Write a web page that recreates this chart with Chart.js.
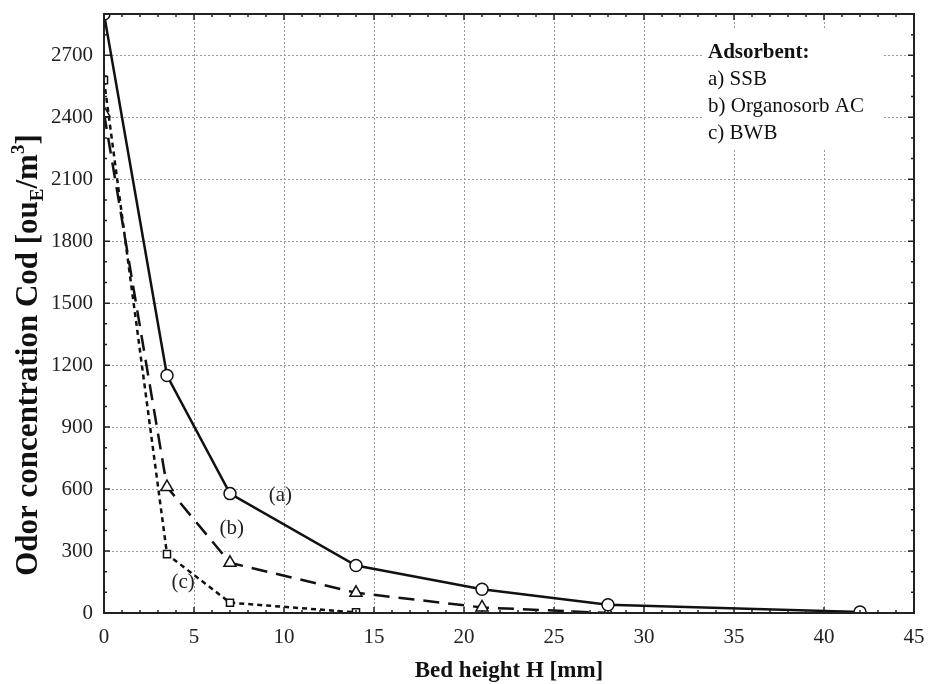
<!DOCTYPE html>
<html>
<head>
<meta charset="utf-8">
<script src="https://cdn.jsdelivr.net/npm/chart.js"></script>
<style>
  body { margin: 0; background: #fff; }
  #wrap { width: 928px; height: 684px; }
</style>
</head>
<body>
<div id="wrap"><canvas id="myChart" width="928" height="684"></canvas></div>
<script>
const ctx = document.getElementById("myChart")

// bed height H [mm]
const heightA = [0, 3.5, 7, 14, 21, 28, 42]
const heightB = [0, 3.5, 7, 14, 21, 28]
const heightC = [0, 3.5, 7, 14]
// odor concentration [ouE/m3]
const odorA = [2900, 1150, 578, 230, 115, 40, 5]
const odorB = [2420, 610, 243, 98, 27, 0]
const odorC = [2580, 285, 50, 3]
const yTicks = [0, 300, 600, 900, 1200, 1500, 1800, 2100, 2400, 2700]
const legendLines = ['a) SSB', 'b) Organosorb AC', 'c) BWB']
const curveLabels = [['(a)', 9.8, 571], ['(b)', 7.1, 411], ['(c)', 4.4, 150]]

const serif = "'Liberation Serif', 'Times New Roman', serif"

const pts = (xs, ys) => xs.map((x, i) => ({ x: x, y: ys[i] }))

// frame, inward ticks, titles and text labels
const decor = {
  id: 'decor',
  afterDraw(chart) {
    const c = chart.ctx
    const a = chart.chartArea
    const xs = chart.scales.x
    const ys = chart.scales.y
    c.save()
    c.strokeStyle = '#222'
    c.lineWidth = 2
    c.strokeRect(a.left, a.top, a.right - a.left, a.bottom - a.top)
    c.lineWidth = 1.5
    c.beginPath()
    for (let v = 0; v <= 45; v++) {
      const p = xs.getPixelForValue(v)
      const len = v % 5 === 0 ? 6 : 3
      c.moveTo(p, a.bottom); c.lineTo(p, a.bottom - len)
      c.moveTo(p, a.top); c.lineTo(p, a.top + len)
    }
    for (let v = 0; v <= 2900; v += 100) {
      const p = ys.getPixelForValue(v)
      const len = v % 300 === 0 ? 6 : 3
      c.moveTo(a.left, p); c.lineTo(a.left + len, p)
      c.moveTo(a.right, p); c.lineTo(a.right - len, p)
    }
    c.stroke()

    // curve labels
    c.fillStyle = '#222'
    c.font = '21px ' + serif
    c.textAlign = 'center'
    c.textBaseline = 'middle'
    curveLabels.forEach(l => {
      c.fillText(l[0], xs.getPixelForValue(l[1]), ys.getPixelForValue(l[2]))
    })

    // legend box
    c.fillStyle = '#fff'
    c.fillRect(704, 30, 178, 120)
    c.fillStyle = '#111'
    c.textAlign = 'left'
    c.font = 'bold 21px ' + serif
    c.fillText('Adsorbent:', 708, 53)
    c.font = '21px ' + serif
    legendLines.forEach((t, i) => c.fillText(t, 708, 79 + i * 27))

    // x title
    c.font = 'bold 23px ' + serif
    c.textAlign = 'center'
    c.fillText('Bed height H [mm]', (a.left + a.right) / 2, 671)

    // y title with sub/superscript
    const parts = [
      ['Odor concentration Cod [ou', 31, 0],
      ['E', 19, 6],
      ['/m', 31, 0],
      ['3', 19, -13],
      [']', 31, 0]
    ]
    let total = 0
    parts.forEach(p => { c.font = 'bold ' + p[1] + 'px ' + serif; total += c.measureText(p[0]).width })
    c.textAlign = 'left'
    c.textBaseline = 'alphabetic'
    c.translate(37, 355)
    c.rotate(-Math.PI / 2)
    let x = -total / 2
    parts.forEach(p => {
      c.font = 'bold ' + p[1] + 'px ' + serif
      c.fillText(p[0], x, p[2])
      x += c.measureText(p[0]).width
    })
    c.restore()
  }
}

const marker = {
  pointRadius: 6,
  pointHoverRadius: 6,
  pointBackgroundColor: '#fff',
  pointBorderColor: '#111',
  pointBorderWidth: 1.5,
  borderColor: '#111',
  borderWidth: 2.5,
  fill: false,
  tension: 0
}

const tickFont = { family: serif, size: 21 }

let myChart = new Chart(ctx, {
  type: 'line',
  data: {
    datasets: [
      Object.assign({ label: 'a) SSB', data: pts(heightA, odorA), pointStyle: 'circle' }, marker),
      Object.assign({ label: 'b) Organosorb AC', data: pts(heightB, odorB), pointStyle: 'triangle', borderDash: [16, 9] }, marker, { pointRadius: 7 }),
      Object.assign({ label: 'c) BWB', data: pts(heightC, odorC), pointStyle: 'rect', borderDash: [5, 4] }, marker, { pointRadius: 5 })
    ]
  },
  options: {
    responsive: false,
    animation: false,
    layout: { padding: { left: 0, right: 14, top: 14, bottom: 0 } },
    plugins: { legend: { display: false }, tooltip: { enabled: false } },
    scales: {
      x: {
        type: 'linear',
        min: 0,
        max: 45,
        ticks: { stepSize: 5, padding: 12, color: '#222', font: tickFont, callback: v => String(v) },
        grid: { color: '#9a9a9a', lineWidth: 1, drawTicks: false },
        border: { display: false, dash: [2, 2] },
        afterFit: s => { s.height = 71; s.paddingLeft = 0; s.paddingRight = 0 }
      },
      y: {
        min: 0,
        max: 2900,
        ticks: { padding: 11, color: '#222', font: tickFont, callback: v => String(v) },
        afterBuildTicks: s => { s.ticks = yTicks.map(v => ({ value: v })) },
        grid: { color: '#9a9a9a', lineWidth: 1, drawTicks: false },
        border: { display: false, dash: [2, 2] },
        afterFit: s => { s.width = 104; s.paddingTop = 0; s.paddingBottom = 0 }
      }
    }
  },
  plugins: [decor]
})
</script>
</body>
</html>
